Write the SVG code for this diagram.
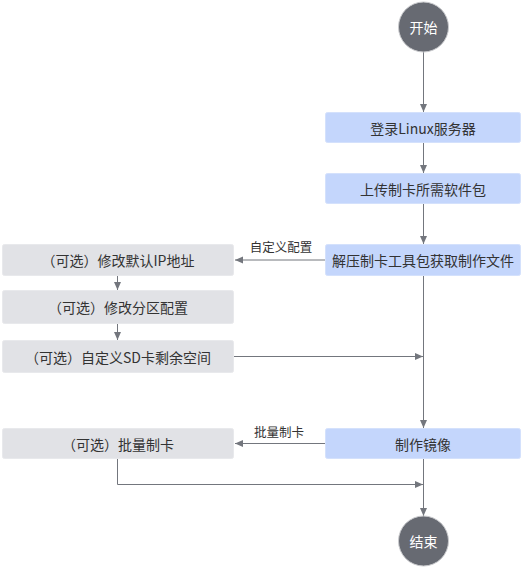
<svg xmlns="http://www.w3.org/2000/svg" width="522" height="567" viewBox="0 0 522 567">
<style>
.blue{fill:#c4d6fc;stroke:#d4e1fc;stroke-width:1}
.gray{fill:#e1e2e6;stroke:#e8e9ec;stroke-width:1}
.circ{fill:#676a72;stroke:#c9cacd;stroke-width:1}
.t{font-family:"Noto Sans CJK SC","Noto Sans",sans-serif;font-size:14px;fill:#333;text-anchor:middle;dominant-baseline:central}
.tw{font-family:"Noto Sans CJK SC","Noto Sans",sans-serif;font-size:14px;fill:#fff;text-anchor:middle;dominant-baseline:central}
.lbl{font-family:"Noto Sans CJK SC","Noto Sans",sans-serif;font-size:12.5px;fill:#333;text-anchor:middle;dominant-baseline:central}
.ln{stroke:#73767d;stroke-width:1;fill:none;marker-end:url(#ah)}
</style>
<defs>
<marker id="ah" markerWidth="8" markerHeight="8" refX="8" refY="4" orient="auto" markerUnits="userSpaceOnUse">
<path d="M0,0.5 L8,4 L0,7.5 Z" fill="#73767d"/>
</marker>
</defs>
<g id="connectors">
<line class="ln" x1="423.5" y1="52" x2="423.5" y2="112"/>
<line class="ln" x1="423.5" y1="142" x2="423.5" y2="173"/>
<line class="ln" x1="423.5" y1="204" x2="423.5" y2="244"/>
<line class="ln" x1="423.5" y1="275" x2="423.5" y2="428"/>
<line class="ln" x1="423.5" y1="459" x2="423.5" y2="516"/>
<line class="ln" x1="325" y1="260" x2="235" y2="260"/>
<line class="ln" x1="117.5" y1="275" x2="117.5" y2="290"/>
<line class="ln" x1="117.5" y1="324" x2="117.5" y2="340"/>
<line class="ln" x1="234" y1="356.5" x2="423" y2="356.5"/>
<line class="ln" x1="325" y1="443.5" x2="235" y2="443.5"/>
<polyline class="ln" points="117.5,459 117.5,484.5 423,484.5"/>
<text class="lbl" x="281" y="246">自定义配置</text>
<text class="lbl" x="279" y="431">批量制卡</text>
</g>
<g id="start"><circle class="circ" cx="423.5" cy="27" r="25"/><text class="tw" x="423.5" y="27">开始</text></g>
<g id="login"><rect class="blue" x="325.5" y="112.5" width="195" height="30" rx="2"/><text class="t" x="423" y="127.5">登录Linux服务器</text></g>
<g id="upload"><rect class="blue" x="325.5" y="173.5" width="195" height="30" rx="2"/><text class="t" x="423" y="188.5">上传制卡所需软件包</text></g>
<g id="unzip"><rect class="blue" x="325.5" y="244.5" width="195" height="31" rx="2"/><text class="t" x="423" y="260">解压制卡工具包获取制作文件</text></g>
<g id="modip"><rect class="gray" x="2.5" y="244.5" width="231" height="31" rx="2"/><text class="t" x="118" y="260">（可选）修改默认IP地址</text></g>
<g id="modpart"><rect class="gray" x="2.5" y="290.5" width="231" height="33" rx="2"/><text class="t" x="118" y="307">（可选）修改分区配置</text></g>
<g id="sdspace"><rect class="gray" x="2.5" y="340.5" width="231" height="32" rx="2"/><text class="t" x="118" y="356.5">（可选）自定义SD卡剩余空间</text></g>
<g id="mkimg"><rect class="blue" x="325.5" y="428.5" width="195" height="30" rx="2"/><text class="t" x="423" y="443.5">制作镜像</text></g>
<g id="batch"><rect class="gray" x="2.5" y="428.5" width="231" height="30" rx="2"/><text class="t" x="118" y="443.5">（可选）批量制卡</text></g>
<g id="end"><circle class="circ" cx="423.5" cy="541" r="25"/><text class="tw" x="423.5" y="541">结束</text></g>
</svg>
